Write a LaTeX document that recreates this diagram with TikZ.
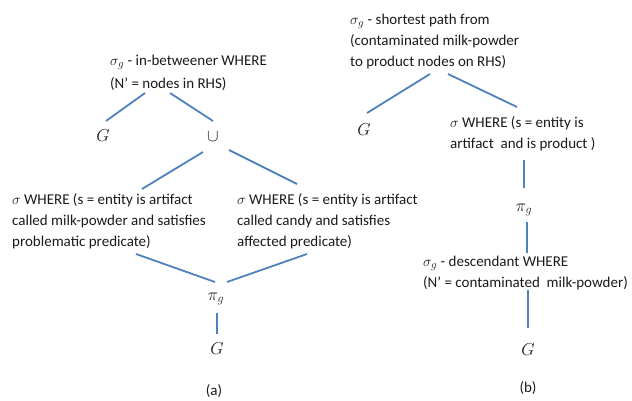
\documentclass[tikz,border=0pt]{standalone}
\usepackage{fontspec}
\setmainfont{Carlito}
\usetikzlibrary{calc}
\definecolor{edgeblue}{HTML}{4F81BD}
\definecolor{txt}{HTML}{1A1A1A}
\begin{document}
\begin{tikzpicture}[x=1pt,y=-1pt,
  every node/.style={text=txt,font=\fontsize{15}{21}\selectfont,inner sep=0pt},
  block/.style={align=left,anchor=base west},
  sym/.style={anchor=center,font=\fontsize{17}{21}\selectfont},
  conn/.style={draw=edgeblue,line width=1.8pt}]
\useasboundingbox (0,0) rectangle (632,400);
% ---------- tree (a)  (block nodes are placed at the baseline of their last line)
\node[block] (rA) at (110,88) {$\sigma_g$ - in-betweener WHERE\\[2pt](N’ = nodes in RHS)};
\node[sym] (GA1) at (103,136) {$G$};
\node[sym] (cup) at (213,137) {$\cup$};
\node[block] (sL) at (12,246) {$\sigma$ WHERE (s = entity is artifact\\called milk-powder and satisfies\\problematic predicate)};
\node[block] (sR) at (237,246) {$\sigma$ WHERE (s = entity is artifact\\called candy and satisfies\\affected predicate)};
\node[sym] (piA) at (216,299) {$\pi_g$};
\node[sym] (GA2) at (217,349) {$G$};
\node[block,anchor=center] (labA) at (214,391) {(a)};
\draw[conn] ($(rA.base west)+(35,5)$) -- ($(GA1.center)+(3,-15)$);
\draw[conn] ($(rA.base west)+(60,5)$) -- ($(cup.center)+(0,-16)$);
\draw[conn] ($(cup.center)+(-10,15)$) -- ($(sL.base west)+(130,-57)$);
\draw[conn] ($(cup.center)+(16,13)$) -- ($(sR.base west)+(60,-62)$);
\draw[conn] ($(sL.base west)+(124,8)$) -- ($(piA.center)+(-1,-17)$);
\draw[conn] ($(sR.base west)+(70,8)$) -- ($(piA.center)+(11,-17)$);
\draw[conn] ($(piA.center)+(1,14)$) -- ($(GA2.center)+(0,-15)$);
% ---------- tree (b)
\node[block] (rB) at (350,66) {$\sigma_g$ - shortest path from\\(contaminated milk-powder\\to product nodes on RHS)};
\node[sym] (GB1) at (364,130) {$G$};
\node[block] (sB) at (450,148) {$\sigma$ WHERE (s = entity is\\artifact\ \ and is product )};
\node[sym] (piB) at (524,210) {$\pi_g$};
\node[block] (dB) at (423,287) {$\sigma_g$ - descendant WHERE\\(N’ = contaminated\ \ milk-powder)};
\node[sym] (GB2) at (528,350) {$G$};
\node[block,anchor=center] (labB) at (528,388) {(b)};
\draw[conn] ($(rB.base west)+(80,8)$) -- ($(GB1.center)+(3,-17)$);
\draw[conn] ($(rB.base west)+(98,8)$) -- ($(sB.base west)+(67,-41)$);
\draw[conn] ($(sB.base west)+(74,12)$) -- ($(piB.center)+(0,-22)$);
\draw[conn] ($(piB.center)+(3,12)$) -- ($(dB.base west)+(104,-34)$);
\draw[conn] ($(dB.base west)+(105,3)$) -- ($(GB2.center)+(0,-22)$);
\end{tikzpicture}
\end{document}
